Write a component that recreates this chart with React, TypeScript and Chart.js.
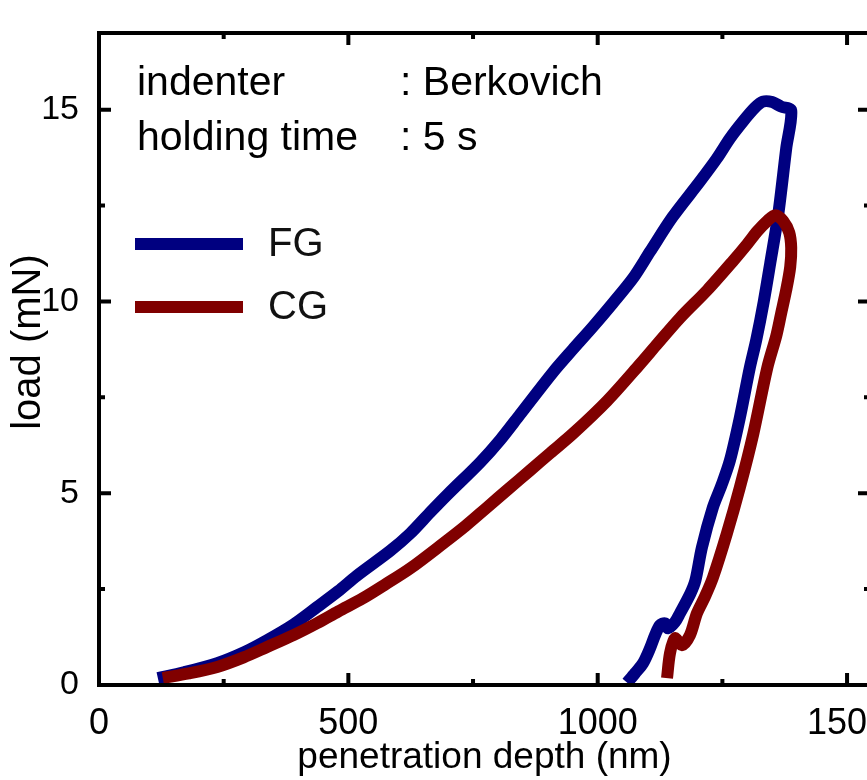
import React, { useEffect, useRef } from "react";
import { Chart, registerables } from "chart.js";

Chart.register(...registerables);

// ---- data (penetration depth in nm, load in mN) ----
const fgDepth = [
  118, 170, 237, 290, 337, 390, 437, 480, 517, 584, 624, 664, 700, 764, 805, 844, 910, 950, 991, 1030,
  1071, 1105, 1150, 1205, 1239, 1265, 1291, 1315, 1331, 1350, 1368, 1388,
  1378, 1362, 1346, 1333, 1318, 1305, 1285, 1265, 1248, 1231, 1209, 1196, 1186, 1165, 1155, 1141, 1135,
  1125, 1115, 1105, 1091, 1075, 1059,
];
const fgLoad = [
  0.18, 0.33, 0.57, 0.85, 1.17, 1.58, 2.03, 2.45, 2.85, 3.5, 3.95, 4.5, 4.98, 5.8, 6.4, 7.05, 8.15, 8.75, 9.35, 9.95,
  10.61, 11.3, 12.2, 13.13, 13.73, 14.25, 14.69, 15.05, 15.21, 15.2, 15.08, 14.98,
  13.99, 12.27, 11.0, 10.0, 9.0, 8.27, 6.97, 5.85, 5.2, 4.63, 3.59, 2.73, 2.39, 1.87, 1.64, 1.48, 1.61,
  1.56, 1.3, 0.96, 0.57, 0.31, 0.06,
];
const cgDepth = [
  128, 180, 237, 290, 337, 390, 437, 480, 529, 575, 624, 690, 735, 778, 820, 864, 905, 950, 1019, 1085,
  1120, 1165, 1220, 1271, 1300, 1320, 1340, 1356, 1372, 1384, 1388,
  1386, 1378, 1368, 1358, 1340, 1312, 1285, 1259, 1231, 1215, 1199, 1185, 1169, 1155, 1145, 1139,
];
const cgLoad = [
  0.18, 0.3, 0.47, 0.72, 0.99, 1.3, 1.61, 1.92, 2.26, 2.63, 3.04, 3.69, 4.15, 4.63, 5.1, 5.59, 6.05, 6.55, 7.41, 8.37,
  8.9, 9.57, 10.3, 11.05, 11.5, 11.83, 12.1, 12.25, 12.1, 11.8, 11.4,
  10.9, 10.3, 9.7, 9.1, 8.27, 6.55, 5.15, 3.95, 2.8, 2.3, 1.87, 1.3, 1.04, 1.22, 0.83, 0.18,
];

const seriesLabels = ["FG", "CG"];
const seriesColors = ["#000080", "#800000"];
const xTickValues = [0, 500, 1000, 1500];
const yTickValues = [0, 5, 10, 15];
const xMinorStep = 250;
const yMinorStep = 2.5;
const xTitle = "penetration depth (nm)";
const yTitle = "load (mN)";
const infoNames = ["indenter", "holding time"];
const infoValues = [": Berkovich", ": 5 s"];

const FONT = "'Liberation Sans', Arial, Helvetica, sans-serif";

const framePlugin = {
  id: "frameTicks",
  afterDraw(chart: any) {
    const { ctx, chartArea: a, scales } = chart;
    const xs = scales.x;
    const ys = scales.y;
    ctx.save();
    ctx.strokeStyle = "#000";
    ctx.lineCap = "butt";
    ctx.lineWidth = 4;
    ctx.strokeRect(a.left, a.top, a.right - a.left, a.bottom - a.top);
    ctx.beginPath();
    for (let v = 0; v <= xs.max; v += xMinorStep) {
      const px = xs.getPixelForValue(v);
      const len = v % 500 === 0 ? 12 : 6;
      ctx.moveTo(px, a.bottom);
      ctx.lineTo(px, a.bottom - len);
      ctx.moveTo(px, a.top);
      ctx.lineTo(px, a.top + len);
    }
    for (let v = 0; v <= ys.max; v += yMinorStep) {
      const py = ys.getPixelForValue(v);
      const len = v % 5 === 0 ? 12 : 6;
      ctx.moveTo(a.left, py);
      ctx.lineTo(a.left + len, py);
      ctx.moveTo(a.right, py);
      ctx.lineTo(a.right - len, py);
    }
    ctx.stroke();

    // y axis title
    ctx.fillStyle = "#000";
    ctx.font = `40px ${FONT}`;
    ctx.save();
    ctx.translate(29, 342);
    ctx.rotate(-Math.PI / 2);
    ctx.textAlign = "center";
    ctx.textBaseline = "middle";
    ctx.fillText(yTitle, 0, 0);
    ctx.restore();

    // info text
    ctx.font = `41px ${FONT}`;
    ctx.textAlign = "left";
    ctx.textBaseline = "alphabetic";
    infoNames.forEach((t, i) => {
      ctx.fillText(t, 137, 95 + i * 55);
      ctx.fillText(infoValues[i], 400, 95 + i * 55);
    });

    // legend
    ctx.font = `40px ${FONT}`;
    seriesLabels.forEach((label, i) => {
      const y = 244 + i * 63;
      ctx.strokeStyle = seriesColors[i];
      ctx.lineWidth = 12;
      ctx.beginPath();
      ctx.moveTo(135, y);
      ctx.lineTo(243, y);
      ctx.stroke();
      ctx.fillStyle = "#111";
      ctx.textBaseline = "middle";
      ctx.fillText(label, 268, y + 1);
    });
    ctx.restore();
  },
};

export default function App() {
  const ref = useRef<HTMLCanvasElement | null>(null);
  useEffect(() => {
    if (!ref.current) return;
    const toPts = (xs: number[], ys: number[]) => xs.map((x, i) => ({ x, y: ys[i] }));
    const chart = new Chart(ref.current, {
      type: "scatter",
      data: {
        datasets: [
          { label: seriesLabels[0], data: toPts(fgDepth, fgLoad), order: 1 },
          { label: seriesLabels[1], data: toPts(cgDepth, cgLoad), order: 0 },
        ].map((d, i) => ({
          ...d,
          showLine: true,
          borderColor: seriesColors[i],
          backgroundColor: seriesColors[i],
          borderWidth: 12,
          pointRadius: 0,
          tension: 0.3,
          borderCapStyle: "butt",
          borderJoinStyle: "round",
        })) as any,
      },
      options: {
        animation: false,
        responsive: false,
        devicePixelRatio: 1,
        layout: { padding: { top: 33, right: 50, left: 0, bottom: 0 } },
        plugins: { legend: { display: false }, tooltip: { enabled: false } },
        scales: {
          x: {
            type: "linear",
            min: 0,
            max: 1546,
            grid: { display: false },
            border: { display: false },
            afterBuildTicks: (s: any) => {
              s.ticks = xTickValues.map((v) => ({ value: v }));
            },
            afterFit: (s: any) => {
              s.height = 95;
            },
            ticks: {
              color: "#000",
              font: { family: FONT, size: 36 },
              padding: 9,
              maxRotation: 0,
              callback: (v: any) => String(v),
            },
            title: {
              display: true,
              text: xTitle,
              color: "#000",
              font: { family: FONT, size: 37 },
              padding: 0,
            },
          },
          y: {
            type: "linear",
            min: 0,
            max: 17,
            grid: { display: false },
            border: { display: false },
            afterBuildTicks: (s: any) => {
              s.ticks = yTickValues.map((v) => ({ value: v }));
            },
            afterFit: (s: any) => {
              s.width = 99;
            },
            ticks: {
              color: "#000",
              font: { family: FONT, size: 34 },
              padding: 12,
              callback: (v: any) => String(v),
            },
          },
        },
      } as any,
      plugins: [framePlugin],
    });
    return () => chart.destroy();
  }, []);

  return (
    <div
      style={{
        position: "absolute",
        left: 0,
        top: 0,
        width: 867,
        height: 780,
        overflow: "hidden",
        background: "#fff",
      }}
    >
      <canvas ref={ref} width={920} height={780} style={{ width: 920, height: 780, display: "block" }} />
    </div>
  );
}
